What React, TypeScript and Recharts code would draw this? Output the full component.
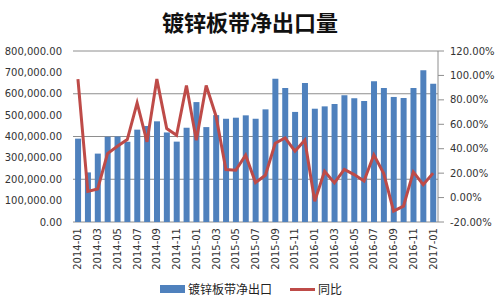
import React from "react";
import {
  ComposedChart,
  Bar,
  Line,
  XAxis,
  YAxis,
  CartesianGrid,
  Legend,
} from "recharts";

const months = [
  "2014-01", "2014-02", "2014-03", "2014-04", "2014-05", "2014-06",
  "2014-07", "2014-08", "2014-09", "2014-10", "2014-11", "2014-12",
  "2015-01", "2015-02", "2015-03", "2015-04", "2015-05", "2015-06",
  "2015-07", "2015-08", "2015-09", "2015-10", "2015-11", "2015-12",
  "2016-01", "2016-02", "2016-03", "2016-04", "2016-05", "2016-06",
  "2016-07", "2016-08", "2016-09", "2016-10", "2016-11", "2016-12",
  "2017-01",
];

const netExports = [
  390000, 232000, 320000, 399000, 400000, 376000, 432000, 449000, 471000, 419000, 376000, 441000,
  561000, 444000, 500000, 483000, 488000, 499000, 483000, 527000, 670000, 627000, 515000, 650000,
  530000, 541000, 552000, 593000, 579000, 566000, 658000, 627000, 585000, 580000, 627000, 710000,
  647000,
];

const yoy = [
  97, 5, 7, 36, 42, 47.5, 77.5, 45.6, 97, 56.5, 51, 91.8,
  47, 91.8, 66.6, 23, 22.4, 34.7, 12.3, 18.3, 44.5, 48.9, 38, 47,
  -3, 21.5, 12, 23, 18.8, 13.6, 35, 19.7, -11, -7, 21, 10.6,
  20,
];

const leftTicks = [0, 100000, 200000, 300000, 400000, 500000, 600000, 700000, 800000];
const rightTicks = [-20, 0, 20, 40, 60, 80, 100, 120];

const data = months.map((m, i) => ({ month: m, exports: netExports[i], yoy: yoy[i] }));

const BLUE = "#4F81BD";
const RED = "#BE4B48";
const GRID = "#8E8E8E";
const FONT = "'DejaVu Sans', sans-serif";
const CJK = "'Noto Sans CJK SC', sans-serif";

const fmtLeft = (v: number) =>
  v.toLocaleString("en-US", { minimumFractionDigits: 2, maximumFractionDigits: 2 });
const fmtRight = (v: number) => `${v.toFixed(2)}%`;

function MonthTick(props: any) {
  const { x, y, payload } = props;
  return (
    <g transform={`translate(${x},${y})`}>
      <text
        transform="rotate(-90)"
        textAnchor="end"
        dy="0.35em"
        fontSize={10}
        fontFamily={FONT}
        fill="#333"
      >
        {payload.value}
      </text>
    </g>
  );
}

function ChartLegend() {
  return (
    <div style={{ position: "relative", height: 22, fontFamily: CJK, fontSize: 12, color: "#222" }}>
      <div style={{ position: "absolute", left: 160, top: 7, width: 25, height: 8, background: BLUE }} />
      <div style={{ position: "absolute", left: 188, top: 2, lineHeight: "18px" }}>镀锌板带净出口</div>
      <div style={{ position: "absolute", left: 290, top: 10, width: 25, height: 3, background: RED }} />
      <div style={{ position: "absolute", left: 318, top: 2, lineHeight: "18px" }}>同比</div>
    </div>
  );
}

export default function App() {
  return (
    <div style={{ position: "absolute", left: 0, top: 0, width: 500, height: 300, background: "#fff" }}>
      <div
        style={{
          position: "absolute",
          top: 6,
          left: 0,
          width: 500,
          textAlign: "center",
          fontFamily: CJK,
          fontWeight: "bold",
          fontSize: 22,
          lineHeight: "30px",
          color: "#111",
        }}
      >
        镀锌板带净出口量
      </div>
      <ComposedChart
        width={500}
        height={300}
        data={data}
        margin={{ top: 51, right: 0, bottom: 0, left: 0 }}
        barCategoryGap="21%"
      >
        <CartesianGrid yAxisId="left" vertical={false} stroke={GRID} />
        <XAxis
          dataKey="month"
          interval={1}
          height={56}
          tickLine={false}
          axisLine={false}
          tickSize={6}
          tickMargin={0}
          tick={<MonthTick />}
        />
        <YAxis
          yAxisId="left"
          width={73}
          domain={[0, 800000]}
          ticks={leftTicks}
          tickFormatter={fmtLeft}
          axisLine={false}
          tickLine={false}
          tickMargin={5}
          tick={{ fontSize: 10, fontFamily: FONT, fill: "#333" }}
        />
        <YAxis
          yAxisId="right"
          orientation="right"
          width={62}
          domain={[-20, 120]}
          ticks={rightTicks}
          tickFormatter={fmtRight}
          axisLine={{ stroke: GRID }}
          tickLine={{ stroke: GRID }}
          tickMargin={6}
          tick={{ fontSize: 10, fontFamily: FONT, fill: "#333" }}
        />
        <Legend verticalAlign="bottom" height={22} content={() => <ChartLegend />} />
        <Bar yAxisId="left" dataKey="exports" name="镀锌板带净出口" fill={BLUE} isAnimationActive={false} />
        <Line
          yAxisId="right"
          type="linear"
          dataKey="yoy"
          name="同比"
          stroke={RED}
          strokeWidth={3}
          dot={false}
          isAnimationActive={false}
        />
      </ComposedChart>
    </div>
  );
}
